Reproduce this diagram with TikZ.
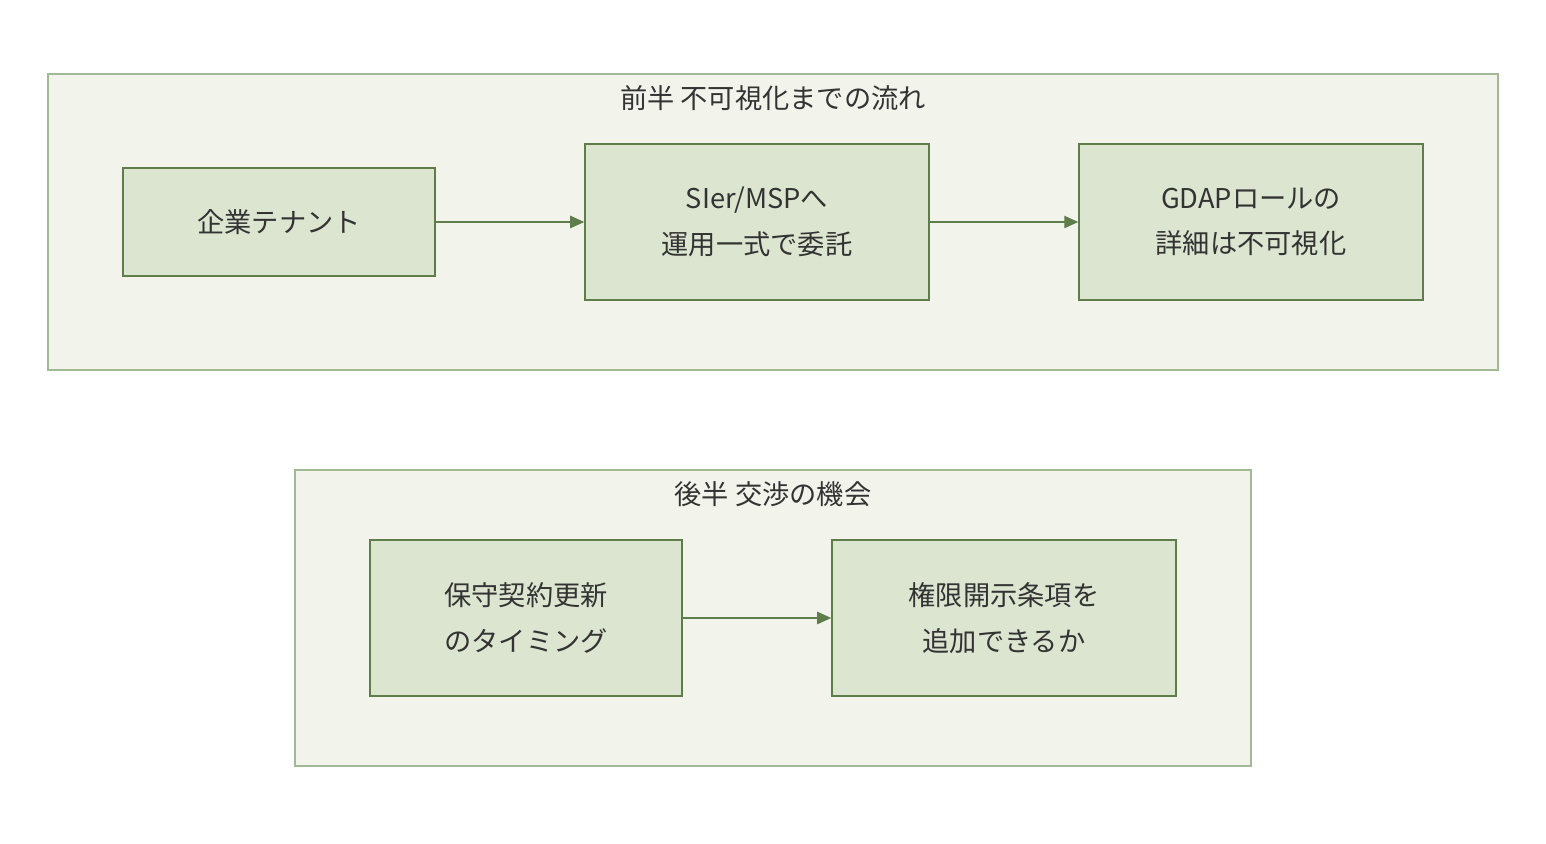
\documentclass[tikz,border=0pt]{standalone}
\usepackage{fontspec}
\setmainfont{Noto Sans CJK JP}
\usetikzlibrary{positioning}
\usetikzlibrary{arrows.meta}

\definecolor{framefill}{HTML}{F2F4EC}
\definecolor{frameline}{HTML}{A3B894}
\definecolor{boxfill}{HTML}{DCE5D0}
\definecolor{boxline}{HTML}{5E7D4A}
\definecolor{txt}{HTML}{333333}

\tikzset{
    frame/.style={draw=frameline, fill=framefill, line width=0.8pt},
    stage/.style={draw=boxline, fill=boxfill, line width=0.8pt, text=txt, align=center, font=\fontsize{15.5}{26}\selectfont, inner sep=0pt},
    flow/.style={draw=boxline, line width=0.8pt, -{Triangle[length=8pt,width=7pt]}},
    heading/.style={text=txt, font=\fontsize{15.5}{18}\selectfont}
}

\begin{document}
\begin{tikzpicture}[x=0.02cm, y=-0.02cm]

    \useasboundingbox (0,0) rectangle (1546,844);

    % first half
    \path[frame] (48,74) rectangle (1498,370);
    \node[heading] (title1) at (773,98) {前半 不可視化までの流れ};

    \node[stage, minimum width=312*0.02cm, minimum height=108*0.02cm] (tenant) at (279,222) {企業テナント};
    \node[stage, minimum width=344*0.02cm, minimum height=156*0.02cm] (sier) at (757,222) {SIer/MSPへ\\運用一式で委託};
    \node[stage, minimum width=344*0.02cm, minimum height=156*0.02cm] (gdap) at (1251,222) {GDAPロールの\\詳細は不可視化};

    \draw[flow] (tenant) -- (sier);
    \draw[flow] (sier) -- (gdap);

    % second half
    \path[frame] (295,470) rectangle (1251,766);
    \node[heading] (title2) at (773,494) {後半 交渉の機会};

    \node[stage, minimum width=312*0.02cm, minimum height=156*0.02cm] (renew) at (526,618) {保守契約更新\\のタイミング};
    \node[stage, minimum width=344*0.02cm, minimum height=156*0.02cm] (clause) at (1004,618) {権限開示条項を\\追加できるか};

    \draw[flow] (renew) -- (clause);

\end{tikzpicture}
\end{document}
